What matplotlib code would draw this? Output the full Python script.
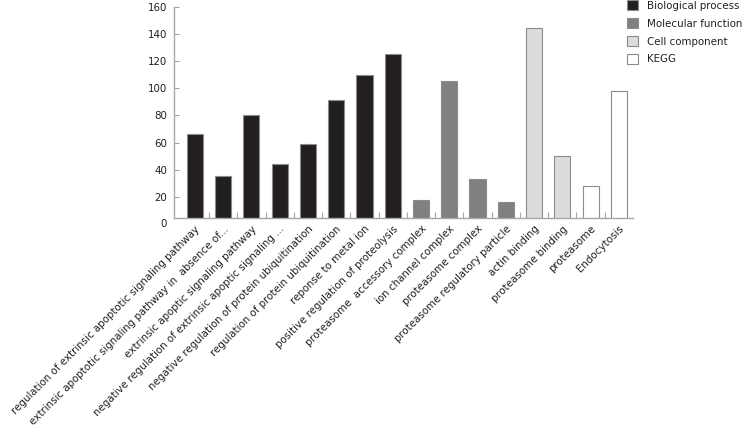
import matplotlib
matplotlib.use("Agg")
import matplotlib.pyplot as plt
from matplotlib.patches import Patch

categories = [
    "regulation of extrinsic apoptotic signaling pathway",
    "extrinsic apoptotic signaling pathway in  absence of...",
    "extrinsic apoptic signaling pathway",
    "negative regulation of extrinsic apoptic signaling ...",
    "negative regulation of protein ubiquitination",
    "regulation of protein ubiquitination",
    "reponse to metal ion",
    "positive regulation of proteolysis",
    "proteasome  accessory complex",
    "ion channel complex",
    "proteasome complex",
    "proteasome regulatory particle",
    "actin binding",
    "proteasome binding",
    "proteasome",
    "Endocytosis",
]
values = [66, 35, 80, 44, 59, 91, 110, 125, 18, 105, 33, 16, 144, 50, 28, 98]
groups = ["Biological process"] * 8 + ["Molecular function"] * 4 + \
         ["Cell component"] * 2 + ["KEGG"] * 2
group_names = ["Biological process", "Molecular function", "Cell component", "KEGG"]
group_colors = {"Biological process": "#231f20", "Molecular function": "#808080",
                "Cell component": "#dcdcdc", "KEGG": "#ffffff"}
yticks = [0, 20, 40, 60, 80, 100, 120, 140, 160]

plt.rcParams['font.family'] = ['DejaVu Sans']
text_color = "#231f20"
axis_color = "#a6a6a6"
fs = 7.4

fig = plt.figure(figsize=(7.46, 4.32), dpi=100)
ax = fig.add_axes([0.2332, 0.4947, 0.8485 - 0.2332, 0.9845 - 0.4947])

x = list(range(len(categories)))
colors = [group_colors[g] for g in groups]
ax.bar(x, values, width=0.57, color=colors, edgecolor="#8c8c8c", linewidth=0.8,
       zorder=2)

ax.set_xlim(-0.74, len(categories) - 0.5)
ax.set_ylim(4.2, 160)
ax.set_yticks(yticks[1:])
ax.set_yticklabels([str(v) for v in yticks[1:]])
# label "0" at the origin (axis line sits slightly above zero)
ax.annotate(str(yticks[0]), xy=(0, yticks[0]), xycoords=("axes fraction", "data"),
            xytext=(-5, 0), textcoords="offset points", ha="right",
            va="center", fontsize=fs, color=text_color, annotation_clip=False)

ax.set_xticks(x)
ax.set_xticklabels(categories, rotation=45, ha="right", rotation_mode="anchor",
                   fontsize=fs, color=text_color)
ax.tick_params(axis="x", which="major", length=0, pad=4)
ax.set_xticks([i + 0.5 for i in x[:-1]], minor=True)
ax.tick_params(axis="x", which="minor", direction="in", length=4,
               color=axis_color, width=0.8)
ax.tick_params(axis="y", direction="in", length=3.5, color=axis_color,
               width=0.8, labelsize=fs, labelcolor=text_color, pad=5)

for s in ["top", "right"]:
    ax.spines[s].set_visible(False)
for s in ["left", "bottom"]:
    ax.spines[s].set_color(axis_color)
    ax.spines[s].set_linewidth(1.0)

handles = [Patch(facecolor=group_colors[g], edgecolor="#8c8c8c", linewidth=0.8,
                 label=g) for g in group_names]
fig.legend(handles=handles, loc="upper left", bbox_to_anchor=(627 / 746, 1 - 0.5 / 432),
           frameon=False, fontsize=fs, handlelength=1.1, handleheight=1.1,
           handletextpad=0.85, labelspacing=0.72, borderaxespad=0, borderpad=0,
           labelcolor=text_color)

fig.savefig("out.png", dpi=100)
